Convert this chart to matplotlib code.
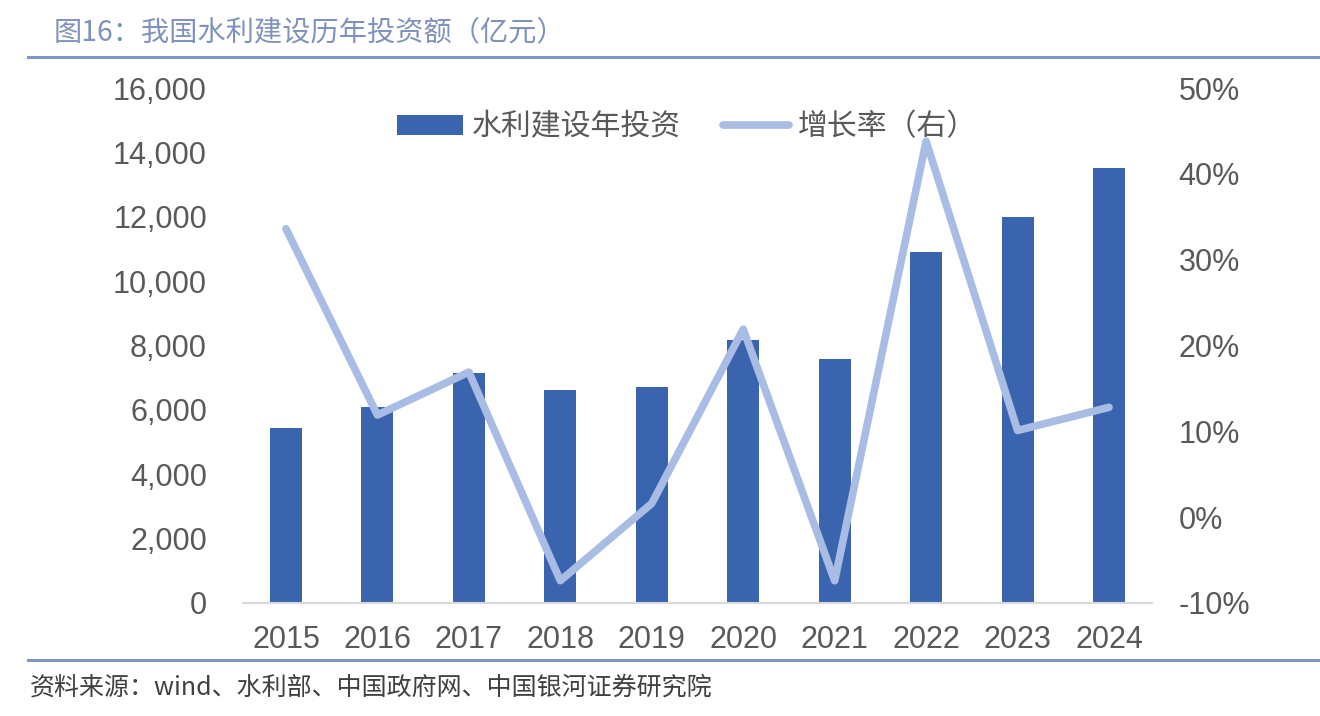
import matplotlib
matplotlib.use('Agg')
import matplotlib.pyplot as plt
from matplotlib.ticker import FuncFormatter

plt.rcParams['font.family'] = ['Liberation Sans', 'Noto Sans CJK SC', 'DejaVu Sans']

years = ['2015', '2016', '2017', '2018', '2019', '2020', '2021', '2022', '2023', '2024']
invest = [5452, 6100, 7132, 6603, 6712, 8182, 7576, 10893, 11996, 13529]
growth = [33.6, 11.9, 16.9, -7.4, 1.6, 21.9, -7.4, 43.8, 10.1, 12.8]

BAR_COLOR = '#3b64af'
LINE_COLOR = '#a9bde4'
TICK_COLOR = '#595959'
RULE_COLOR = '#7f96c6'
CJK = ['Noto Sans CJK SC', 'DejaVu Sans']

fig = plt.figure(figsize=(13.2, 7.16), dpi=100)
ax = fig.add_axes([243 / 1320, 1 - 603 / 716, (1152 - 243) / 1320, (603 - 88) / 716])
ax2 = ax.twinx()

x = range(len(years))
bars = ax.bar(x, invest, width=0.35, color=BAR_COLOR, label='水利建设年投资', zorder=2)
line, = ax2.plot(x, growth, color=LINE_COLOR, lw=5.5, solid_capstyle='round',
                 label='增长率（右）', zorder=3)

ax.set_ylim(0, 16000)
ax.set_yticks(range(0, 16001, 2000))
ax.yaxis.set_major_formatter(FuncFormatter(lambda v, p: f'{v:,.0f}'))
ax2.set_ylim(-10, 50)
ax2.set_yticks(range(-10, 51, 10))
ax2.yaxis.set_major_formatter(FuncFormatter(lambda v, p: f'{v:.0f}%'))
ax.set_xlim(-0.47, 9.47)
ax.set_xticks(list(x))
ax.set_xticklabels(years)

for a in (ax, ax2):
    for s in ('top', 'left', 'right', 'bottom'):
        a.spines[s].set_visible(False)
    a.tick_params(length=0, labelsize=22, colors=TICK_COLOR)
ax.spines['bottom'].set_visible(True)
ax.spines['bottom'].set_color('#d9d9d9')
ax.spines['bottom'].set_linewidth(1.5)
ax.tick_params(axis='y', pad=26)
ax.tick_params(axis='x', pad=16)
ax2.tick_params(axis='y', pad=19)

leg = fig.legend([bars, line], ['水利建设年投资', '增长率（右）'], loc='center',
                 bbox_to_anchor=(687 / 1320, 1 - 127 / 716), ncol=2, frameon=False,
                 prop={'family': CJK, 'size': 21.5}, handlelength=2.2, handleheight=0.65,
                 columnspacing=1.4, handletextpad=0.3)
for t in leg.get_texts():
    t.set_color(TICK_COLOR)

# header / footer rules and texts
fig.add_artist(plt.Line2D([28 / 1320, 1], [1 - 57 / 716] * 2, color=RULE_COLOR, lw=2.2))
fig.add_artist(plt.Line2D([28 / 1320, 1], [1 - 660 / 716] * 2, color=RULE_COLOR, lw=2.2))
fig.text(54 / 1320, 1 - 32 / 716, '图16：我国水利建设历年投资额（亿元）', family=CJK,
         fontsize=20.3, color='#7f92bd', va='center', ha='left')
fig.text(30 / 1320, 1 - 688 / 716, '资料来源：wind、水利部、中国政府网、中国银河证券研究院',
         family=CJK, fontsize=18, color='#404040', va='center', ha='left', style='italic')

fig.savefig('out.png', dpi=100)
